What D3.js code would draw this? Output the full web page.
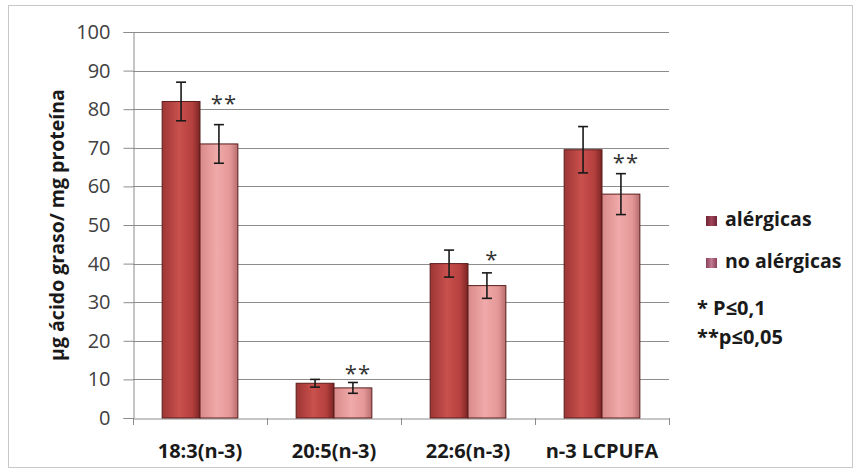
<!DOCTYPE html>
<html><head><meta charset="utf-8">
<script src="https://cdn.jsdelivr.net/npm/d3@7"></script>
<style>body{margin:0;background:#fff}svg{display:block}text{font-family:"Open Sans",Lato,sans-serif}</style>
</head><body>
<script>
const categories = ["18:3(n-3)", "20:5(n-3)", "22:6(n-3)", "n-3 LCPUFA"];
const seriesNames = ["alérgicas", "no alérgicas"];
const alergicas = [82, 9, 40, 69.5];
const alergicasErr = [5, 1, 3.5, 6];
const noAlergicas = [71, 7.8, 34.3, 58];
const noAlergicasErr = [5, 1.4, 3.3, 5.3];
const significance = ["**", "**", "*", "**"];
const significanceAt = [82.5, 12.5, 42, 67];
const yTicks = [0,10,20,30,40,50,60,70,80,90,100];
const notes = ["* P≤0,1", "**p≤0,05"];

const W = 856, H = 476;
const m = {left:133, right:669, top:32, bottom:418};
const svg = d3.select("body").append("svg").attr("width", W).attr("height", H);

const defs = svg.append("defs");
function grad(id, stops){
  const g = defs.append("linearGradient").attr("id", id).attr("x1","0").attr("x2","1").attr("y1","0").attr("y2","0");
  stops.forEach(s => g.append("stop").attr("offset", s[0]).attr("stop-color", s[1]));
}
grad("gDark", [[0,"#9c3634"],[0.45,"#c9504d"],[0.8,"#b4403e"],[1,"#7a2424"]]);
grad("gLight", [[0,"#d88a89"],[0.45,"#f0aaa9"],[0.8,"#e39897"],[1,"#b86e6e"]]);
grad("gLegDark", [[0,"#6e2436"],[0.5,"#a04458"],[1,"#6e2436"]]);
grad("gLegLight", [[0,"#8a3e5a"],[0.5,"#c07a90"],[1,"#8a3e5a"]]);

// outer border
svg.append("rect").attr("x",8.5).attr("y",5.5).attr("width",844).attr("height",462)
  .attr("fill","none").attr("stroke","#c8c8c8");

const x = d3.scaleBand().domain(categories).range([m.left, m.right]);
const xs = d3.scaleBand().domain(seriesNames).range([0, x.bandwidth()]).paddingInner(0).paddingOuter(0.77);
const y = d3.scaleLinear().domain([0,100]).range([m.bottom, m.top]);

// gridlines
svg.append("g").selectAll("line").data(yTicks.filter(d=>d>0)).join("line")
  .attr("x1", m.left).attr("x2", m.right)
  .attr("y1", d=>Math.round(y(d))+0.5).attr("y2", d=>Math.round(y(d))+0.5)
  .attr("stroke","#8c8c8c").attr("stroke-width",1);

// y axis
const yAxis = d3.axisLeft(y).tickValues(yTicks).tickSize(10).tickPadding(13);
const gy = svg.append("g").attr("transform",`translate(${m.left+0.5},0)`).call(yAxis);
gy.select(".domain").attr("stroke","#8c8c8c");
gy.selectAll(".tick line").attr("stroke","#8c8c8c");
gy.selectAll("text").attr("font-size",20).attr("fill","#404040");

// x axis
const xAxis = d3.axisBottom(x).tickSize(0).tickPadding(25);
const gx = svg.append("g").attr("transform",`translate(0,${m.bottom+0.5})`).call(xAxis);
gx.select(".domain").attr("stroke","#8c8c8c");
gx.selectAll("text").attr("font-size",20).attr("font-weight","bold").attr("fill","#1a1a1a");
// category separator ticks
svg.append("g").selectAll("line").data(d3.range(categories.length+1)).join("line")
  .attr("x1", i => Math.round(m.left + i*x.step())+0.5).attr("x2", i => Math.round(m.left + i*x.step())+0.5)
  .attr("y1", m.bottom).attr("y2", m.bottom+7).attr("stroke","#8c8c8c");

// bars
const data = categories.map((c,i)=>[
  {c, s:seriesNames[0], v:alergicas[i], e:alergicasErr[i], fill:"url(#gDark)"},
  {c, s:seriesNames[1], v:noAlergicas[i], e:noAlergicasErr[i], fill:"url(#gLight)"}
]).flat();

svg.append("g").selectAll("rect").data(data).join("rect")
  .attr("x", d=>x(d.c)+xs(d.s)).attr("width", xs.bandwidth())
  .attr("y", d=>y(d.v)).attr("height", d=>y(0)-y(d.v))
  .attr("fill", d=>d.fill).attr("stroke","#5a1c1c").attr("stroke-width",1);

// error bars
const eg = svg.append("g").attr("stroke","#1a1a1a").attr("stroke-width",1.6);
data.forEach(d=>{
  const cx = x(d.c)+xs(d.s)+xs.bandwidth()/2;
  eg.append("line").attr("x1",cx).attr("x2",cx).attr("y1",y(d.v+d.e)).attr("y2",y(d.v-d.e));
  eg.append("line").attr("x1",cx-5).attr("x2",cx+5).attr("y1",y(d.v+d.e)).attr("y2",y(d.v+d.e));
  eg.append("line").attr("x1",cx-5).attr("x2",cx+5).attr("y1",y(d.v-d.e)).attr("y2",y(d.v-d.e));
});

// significance stars
svg.append("g").selectAll("text").data(categories).join("text")
  .attr("x", (c,i)=>x(c)+xs(seriesNames[1])+xs.bandwidth()/2 + 5)
  .attr("y", (c,i)=>y(significanceAt[i]) + 11)
  .attr("text-anchor","middle").attr("font-size",22).attr("fill","#333")
  .attr("font-family","DejaVu Sans").attr("letter-spacing",1)
  .text((c,i)=>significance[i]);

// y label
svg.append("text").attr("transform",`translate(59,${(m.top+m.bottom)/2}) rotate(-90)`)
  .attr("text-anchor","middle").attr("dominant-baseline","middle")
  .attr("font-size",19.5).attr("font-weight","bold").attr("fill","#1a1a1a")
  .text("µg ácido graso/ mg proteína");

// legend
const leg = svg.append("g");
const legY = [221, 263];
seriesNames.forEach((s,i)=>{
  leg.append("rect").attr("x",706).attr("y",legY[i]-5).attr("width",11).attr("height",10)
    .attr("fill", i===0 ? "url(#gLegDark)" : "url(#gLegLight)");
  leg.append("text").attr("x",725).attr("y",legY[i]).attr("dominant-baseline","middle")
    .attr("font-size",19.5).attr("font-weight","bold").attr("fill","#1a1a1a").text(s);
});
notes.forEach((n,i)=>{
  leg.append("text").attr("x",697).attr("y",[310,339][i]).attr("dominant-baseline","middle")
    .attr("font-size",20).attr("font-weight","bold").attr("fill","#1a1a1a").text(n);
});
</script>
</body></html>
